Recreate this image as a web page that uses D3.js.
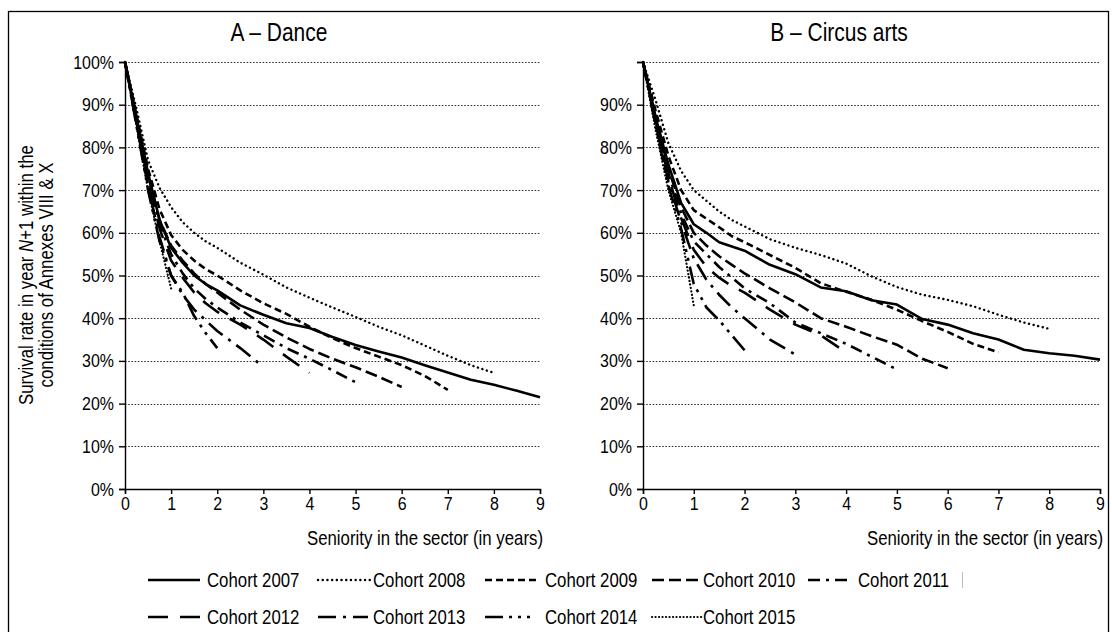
<!DOCTYPE html>
<html>
<head>
<meta charset="utf-8" />
<title>Survival rates by cohort</title>
<script src="https://d3js.org/d3.v7.min.js"></script>
<style>
  body { margin: 0; background: #fff; }
  svg text { font-family: "Liberation Sans", Arial, sans-serif; fill: #000; }
  .tick text { font-size: 19px; }
  .grid line { stroke: #333; stroke-width: 1; stroke-dasharray: 1.6,1.6; }
  .domain { stroke: #000; stroke-width: 1.4; }
  .tick line { stroke: #000; stroke-width: 1.4; }
</style>
</head>
<body>
<div id="chart"></div>
<script>

// seniority grid (years) shared by all cohorts
var seniority = [0, 0.25, 0.5, 0.75, 1, 1.25, 1.5, 1.75, 2, 2.5, 3, 3.5, 4, 4.5, 5, 5.5, 6, 6.5, 7, 7.5, 8, 8.5, 9];

var cohorts = ["Cohort 2007", "Cohort 2008", "Cohort 2009", "Cohort 2010", "Cohort 2011",
               "Cohort 2012", "Cohort 2013", "Cohort 2014", "Cohort 2015"];

// survival rate (%) - A, Dance
var danceRates = [
  [100, 87, 74, 63, 56.5, 53, 50, 48, 46.5, 43, 40.8, 38.8, 37.7, 35.6, 33.7, 32.2, 30.8, 29, 27.3, 25.6, 24.4, 23, 21.5],
  [100, 89, 77, 70.5, 66, 62.5, 60, 58, 56.5, 53, 50.2, 47.2, 44.8, 42.5, 40.3, 38, 36, 33.6, 31.2, 29, 27.2],
  [100, 87.5, 75, 65.5, 59.5, 56, 53.5, 51.5, 50, 46.5, 43.5, 41, 38, 35.3, 33, 31, 29, 26.5, 23.2],
  [100, 87, 73.5, 63, 57, 53.5, 50.5, 48, 46, 42, 38.5, 35.5, 32.8, 30.5, 28.5, 26.3, 23.9],
  [100, 86.5, 73, 62, 55, 50.5, 47, 44.5, 42.5, 39, 36, 33, 30.5, 27.8, 25],
  [100, 86, 72, 61, 53.5, 49.5, 46, 43.5, 41.5, 38.5, 35, 31, 27.2],
  [100, 85.5, 71, 59, 50, 45.5, 42, 39.5, 37, 33, 28.6],
  [100, 85, 70, 58, 50, 46, 40.5, 36.5, 33],
  [100, 85, 70, 58, 47]
];

// survival rate (%) - B, Circus arts
var circusRates = [
  [100, 87, 76, 67, 62, 60, 57.8, 56.8, 55.8, 52.5, 50.3, 47.2, 46.3, 44.2, 43.2, 39.8, 38.5, 36.5, 35, 32.6, 31.8, 31.2, 30.3],
  [100, 91, 81, 74.5, 70, 67.5, 65, 63, 61.5, 58.5, 56.5, 54.8, 52.8, 49.8, 47.3, 45.5, 44.3, 42.8, 40.8, 39, 37.5],
  [100, 88.5, 78, 70, 65.3, 63.3, 61.3, 59.2, 57.8, 54.8, 51.8, 48.2, 46.2, 44.3, 42, 39.3, 36.8, 34, 32],
  [100, 87, 75, 66, 60, 57, 54.5, 52.5, 50.5, 47, 43.7, 40, 38, 35.8, 33.8, 30.5, 28.3],
  [100, 86.5, 74, 64.5, 58, 55, 52, 49.5, 47, 43.5, 39, 36.5, 34, 31, 28],
  [100, 86, 73, 63.5, 56, 52, 49.5, 47.5, 46, 42, 38.5, 36, 32],
  [100, 85.5, 72, 62.5, 54, 49, 45.5, 42.5, 40, 35, 31.5],
  [100, 85, 71, 61, 48, 42.5, 39.5, 36, 32.5],
  [100, 84, 70, 60, 43]
];

var yTicks = [0, 10, 20, 30, 40, 50, 60, 70, 80, 90, 100];
var xTicks = [0, 1, 2, 3, 4, 5, 6, 7, 8, 9];
var panelTitles = ["A \u2013 Dance", "B \u2013 Circus arts"];
var xTitle = "Seniority in the sector (in years)";

// line style for each cohort (dash pattern, cap, width, legend sample length)
var styles = [
  {dash: null, cap: "butt", w: 2.6, len: 52},
  {dash: "0.1,4.6", cap: "round", w: 2.4, len: 52},
  {dash: "7,4", cap: "butt", w: 2.6, len: 51},
  {dash: "12,5", cap: "butt", w: 2.6, len: 46},
  {dash: "12,6,3,6", cap: "butt", w: 2.6, len: 40},
  {dash: "20,12", cap: "butt", w: 2.6, len: 52},
  {dash: "18,7,3,7", cap: "butt", w: 2.6, len: 50},
  {dash: "18,6,3,6,3,6", cap: "butt", w: 2.6, len: 45},
  {dash: "0.1,3.4", cap: "round", w: 2.2, len: 50}
];

// narrow text helper (Arial Narrow look): horizontal squeeze around the anchor
var NARROW = 0.84;
function narrowText(parent, x, y, size, anchor, str) {
  return parent.append("g")
      .attr("transform", "translate(" + x + "," + y + ")")
    .append("text")
      .attr("transform", "scale(" + NARROW + ",1)")
      .attr("text-anchor", anchor)
      .style("font-size", size + "px")
      .text(str);
}

var W = 1112, H = 632;
var svg = d3.select("#chart").append("svg")
  .attr("width", W)
  .attr("height", H);

// outer frame (bottom edge is cut off in the picture)
svg.append("rect")
  .attr("x", 8.5).attr("y", 11.5)
  .attr("width", 1100).attr("height", 660)
  .style("fill", "none").style("stroke", "#000").style("stroke-width", 1.3);

var plotTop = 62, plotBottom = 489;
var panels = [
  {x0: 125, x1: 540, title: panelTitles[0], tx: 279, rates: danceRates, top: true},
  {x0: 643, x1: 1100, title: panelTitles[1], tx: 839, rates: circusRates, top: false}
];

panels.forEach(function(p) {
  var x = d3.scaleLinear().domain([0, 9]).range([p.x0, p.x1]);
  var y = d3.scaleLinear().domain([0, 100]).range([plotBottom, plotTop]);

  // gridlines
  svg.append("g")
    .attr("class", "grid")
    .selectAll("line")
    .data(yTicks.filter(function(t) { return t > 0; }))
    .enter().append("line")
      .attr("x1", p.x0).attr("x2", p.x1)
      .attr("y1", function(d) { return Math.round(y(d)) + 0.5; })
      .attr("y2", function(d) { return Math.round(y(d)) + 0.5; });

  // Y axis
  var ya = svg.append("g")
    .attr("transform", "translate(" + p.x0 + ",0)")
    .call(d3.axisLeft(y).tickValues(yTicks).tickSize(6).tickPadding(5)
      .tickFormat(function(d) { return (d === 100 && !p.top) ? "" : d + "%"; }));
  ya.selectAll(".tick text")
    .attr("x", -11 / NARROW)
    .attr("transform", "scale(" + NARROW + ",1)");

  // X axis
  var xa = svg.append("g")
    .attr("transform", "translate(0," + plotBottom + ")")
    .call(d3.axisBottom(x).tickValues(xTicks).tickSize(5).tickPadding(3)
      .tickFormat(d3.format("d")));
  xa.selectAll(".tick text")
    .attr("transform", "scale(" + NARROW + ",1)");

  // panel title
  narrowText(svg, p.tx, 41, 25, "middle", p.title);

  // X axis label
  narrowText(svg, p.x1 + 3, 545, 20, "end", xTitle);

  // cohort curves
  var line = d3.line()
    .x(function(d, i) { return x(seniority[i]); })
    .y(function(d) { return y(d); });

  svg.append("g")
    .selectAll("path")
    .data(p.rates)
    .enter().append("path")
      .attr("d", function(d) { return line(d); })
      .style("fill", "none")
      .style("stroke", "#000")
      .style("stroke-width", function(d, i) { return styles[i].w; })
      .style("stroke-linecap", function(d, i) { return styles[i].cap; })
      .style("stroke-linejoin", "round")
      .style("stroke-dasharray", function(d, i) { return styles[i].dash; });
});

// Y axis label (two lines, N in italics)
var yLab = svg.append("text")
  .attr("transform", "translate(33,275) rotate(-90) scale(" + NARROW + ",1)")
  .attr("text-anchor", "middle")
  .style("font-size", "20px");
yLab.append("tspan").text("Survival rate in year ");
yLab.append("tspan").style("font-style", "italic").text("N");
yLab.append("tspan").text("+1 within the");
svg.append("text")
  .attr("transform", "translate(53,275) rotate(-90) scale(" + NARROW + ",1)")
  .attr("text-anchor", "middle")
  .style("font-size", "20px")
  .text("conditions of Annexes VIII & X");

// legend
var legendCols = [148, 318, 485, 652, 808];
var labelCols = [207, 373, 545, 703, 858];
var legendRows = [580, 617];
var legend = svg.append("g");
cohorts.forEach(function(c, i) {
  var row = i < 5 ? 0 : 1;
  var col = i < 5 ? i : i - 5;
  var lx = legendCols[col], ly = legendRows[row];
  legend.append("line")
    .attr("x1", lx).attr("x2", lx + styles[i].len)
    .attr("y1", ly).attr("y2", ly)
    .style("stroke", "#000")
    .style("stroke-width", styles[i].w)
    .style("stroke-linecap", styles[i].cap)
    .style("stroke-dasharray", styles[i].dash);
  narrowText(legend, labelCols[col], ly + 7, 20, "start", c);
});
// small grey mark after the last legend entry
legend.append("rect")
  .attr("x", 962).attr("y", 572)
  .attr("width", 1).attr("height", 16)
  .style("fill", "#bbb");

</script>
</body>
</html>
